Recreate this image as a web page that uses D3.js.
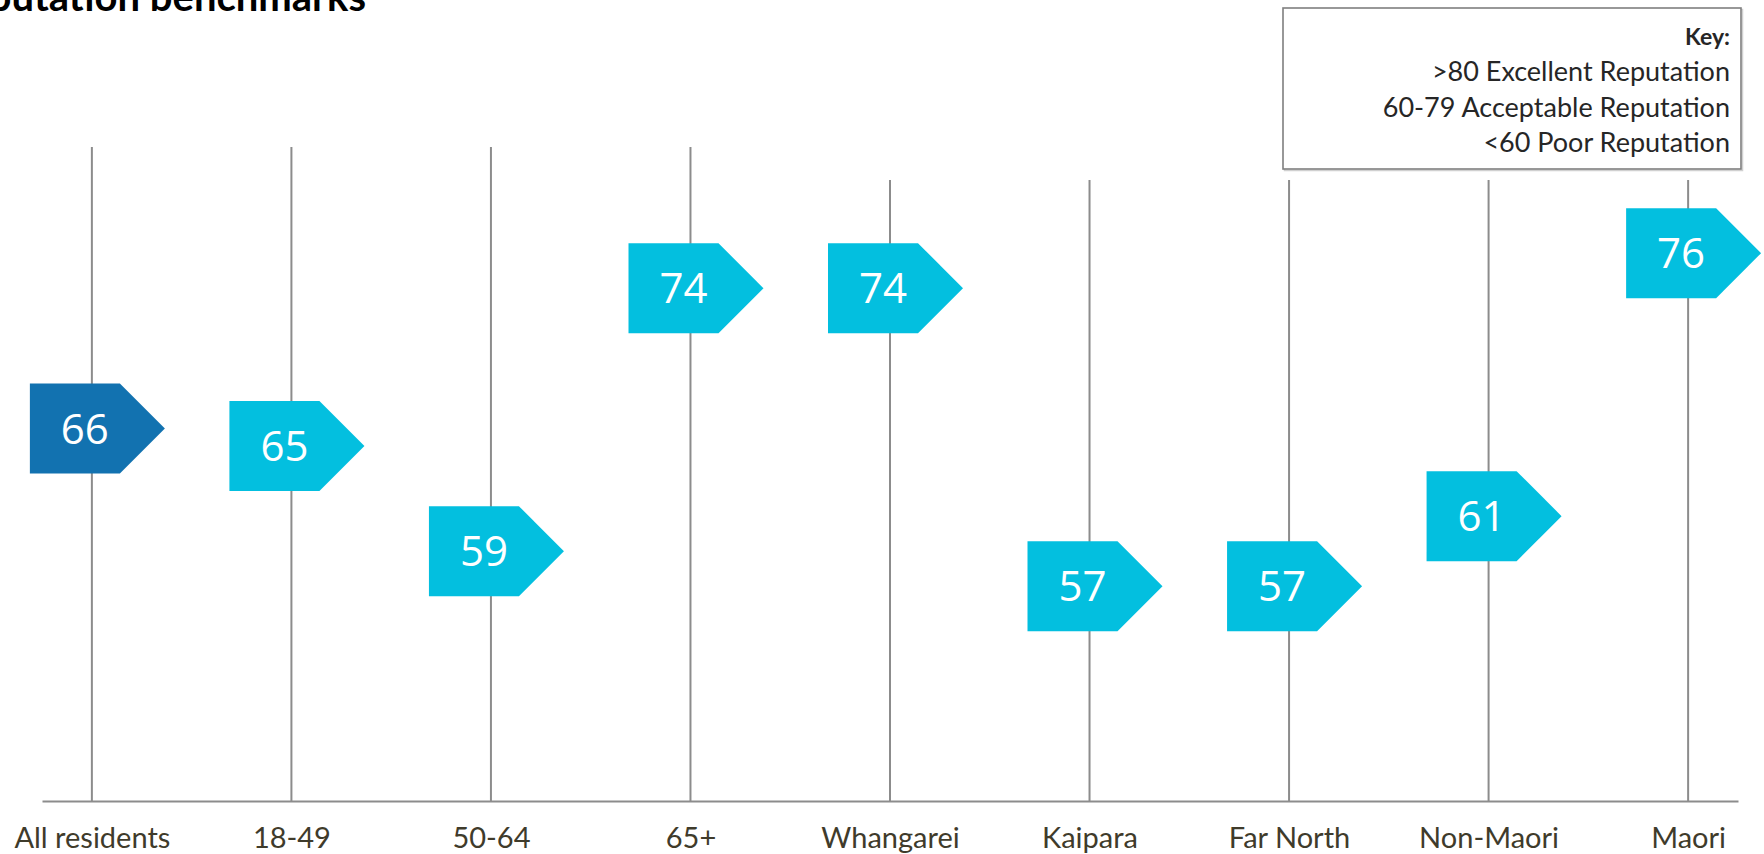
<!DOCTYPE html>
<html>
<head>
<meta charset="utf-8">
<script src="https://cdn.jsdelivr.net/npm/d3@7"></script>
<style>
  html, body { margin: 0; padding: 0; background: #ffffff; }
  svg { display: block; }
</style>
</head>
<body>
<svg id="chart" width="1764" height="854"></svg>
<script>
// ---- Data ----
const titleText = "Reputation benchmarks";
const categories = ["All residents", "18-49", "50-64", "65+", "Whangarei", "Kaipara", "Far North", "Non-Maori", "Maori"];
const scores = [66, 65, 59, 74, 74, 57, 57, 61, 76];
const keyTitle = "Key:";
const keyLines = [">80 Excellent Reputation", "60-79 Acceptable Reputation", "<60 Poor Reputation"];

// ---- Layout ----
const W = 1764, H = 854;
const baselineY = 801;
const svg = d3.select("#chart");
svg.append("rect").attr("width", W).attr("height", H).attr("fill", "#ffffff");

const x = d3.scalePoint().domain(categories).range([42, 1738]).padding(0.25);
const y = d3.scaleLinear().domain([50, 80]).range([709, 183]);

const data = categories.map((c, i) => ({ cat: c, value: scores[i], idx: i }));

// Title (partially cut off at top-left, as in the reference)
svg.append("text")
  .attr("x", 366).attr("y", 11)
  .attr("text-anchor", "end")
  .attr("font-family", "Lato, 'Open Sans', sans-serif")
  .attr("font-weight", 700)
  .attr("font-size", 40)
  .attr("fill", "#000000")
  .text(titleText);

// Vertical guide lines
svg.append("g").selectAll("line")
  .data(data)
  .join("line")
  .attr("x1", d => x(d.cat)).attr("x2", d => x(d.cat))
  .attr("y1", d => d.idx < 4 ? 147 : 180)
  .attr("y2", baselineY)
  .attr("stroke", "#8c8c8c")
  .attr("stroke-width", 2);

// Bottom axis
const axis = d3.axisBottom(x).tickSize(0).tickSizeOuter(0).tickPadding(26);
const gx = svg.append("g").attr("transform", `translate(0,${baselineY})`).call(axis);
gx.select(".domain").attr("stroke", "#8c8c8c").attr("stroke-width", 2.2);
gx.selectAll(".tick text")
  .attr("font-family", "Lato, 'Open Sans', sans-serif")
  .attr("font-size", 29)
  .attr("fill", "#3f3b2b");

// Arrow-shaped value markers
const halfH = 45, leftOff = 62, rectOff = 28, tipOff = 73;
function arrowPath(cx, cy) {
  const p = d3.path();
  p.moveTo(cx - leftOff, cy - halfH);
  p.lineTo(cx + rectOff, cy - halfH);
  p.lineTo(cx + tipOff, cy);
  p.lineTo(cx + rectOff, cy + halfH);
  p.lineTo(cx - leftOff, cy + halfH);
  p.closePath();
  return p.toString();
}

const marks = svg.append("g").selectAll("g")
  .data(data)
  .join("g");

marks.append("path")
  .attr("d", d => arrowPath(x(d.cat), y(d.value)))
  .attr("fill", d => d.cat === "All residents" ? "#1272b0" : "#03bfdf");

marks.append("text")
  .attr("x", d => x(d.cat) - 7)
  .attr("y", d => y(d.value))
  .attr("dy", "0.36em")
  .attr("text-anchor", "middle")
  .attr("font-family", "'Open Sans', sans-serif")
  .attr("font-size", 42)
  .attr("fill", "#ffffff")
  .text(d => d.value);

// Key box
const key = svg.append("g");
key.append("rect")
  .attr("x", 1284.5).attr("y", 9.5).attr("width", 458).attr("height", 161)
  .attr("fill", "none").attr("stroke", "#d0d0d0").attr("stroke-width", 1.5);
key.append("rect")
  .attr("x", 1283).attr("y", 8).attr("width", 458).attr("height", 161)
  .attr("fill", "#ffffff").attr("stroke", "#7f7f7f").attr("stroke-width", 1.6);
key.append("text")
  .attr("x", 1730).attr("y", 45)
  .attr("text-anchor", "end")
  .attr("font-family", "Lato, 'Open Sans', sans-serif")
  .attr("font-weight", 700)
  .attr("font-size", 23)
  .attr("fill", "#262626")
  .text(keyTitle);
key.selectAll("text.kl")
  .data(keyLines)
  .join("text")
  .attr("class", "kl")
  .attr("x", 1730)
  .attr("y", (d, i) => 81 + i * 35.5)
  .attr("text-anchor", "end")
  .attr("font-family", "Lato, 'Open Sans', sans-serif")
  .attr("font-size", 27)
  .attr("fill", "#262626")
  .text(d => d);
</script>
</body>
</html>
